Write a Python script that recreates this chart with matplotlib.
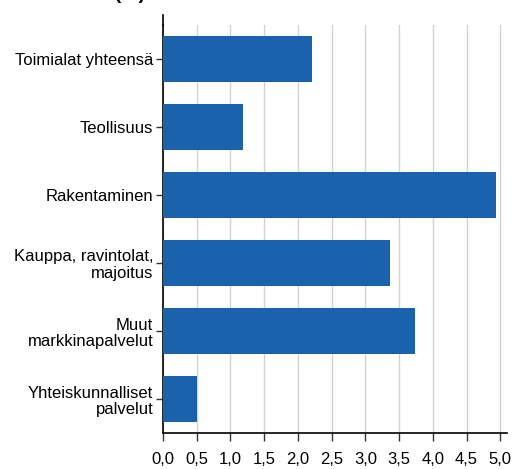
import matplotlib
matplotlib.use("Agg")
import matplotlib.pyplot as plt
import numpy as np

# data
categories = ["Toimialat yhteensä", "Teollisuus", "Rakentaminen",
              "Kauppa, ravintolat,\nmajoitus", "Muut\nmarkkinapalvelut",
              "Yhteiskunnalliset\npalvelut"]
values = [2.21, 1.19, 4.93, 3.36, 3.74, 0.51]
xticks = [0.0, 0.5, 1.0, 1.5, 2.0, 2.5, 3.0, 3.5, 4.0, 4.5, 5.0]
xtick_labels = ["0,0", "0,5", "1,0", "1,5", "2,0", "2,5", "3,0", "3,5", "4,0", "4,5", "5,0"]

plt.rcParams['font.family'] = ['Liberation Sans Narrow', 'Liberation Sans', 'DejaVu Sans']

fig = plt.figure(figsize=(5.23, 4.69), dpi=100)
ax = fig.add_axes([163/523, 1-433/469, (507-163)/523, (433-25)/469])

y = np.arange(len(categories))
ax.barh(y, values, height=0.68, color='#1b62ad', zorder=3)

ax.set_ylim(len(categories)-0.5, -0.5)
ax.set_xlim(0, 5.1)
ax.set_yticks(y)
ax.set_yticklabels(categories, fontsize=12, ha='right', linespacing=1.15)
ax.set_xticks(xticks)
ax.set_xticklabels(xtick_labels, fontsize=12)

ax.grid(axis='x', color='#d3d3d3', linewidth=1, zorder=0)
for s in ['top', 'right']:
    ax.spines[s].set_visible(False)
ax.spines['left'].set_color('black')
ax.spines['bottom'].set_color('black')
ax.spines['left'].set_linewidth(1.2)
ax.spines['bottom'].set_linewidth(1.2)
ax.tick_params(axis='y', length=5, width=1, color='#333333', pad=2)
ax.tick_params(axis='x', length=6, width=1, color='#333333', pad=8)

# left axis line sticks out above the plot
ax.plot([0, 0], [1, 1.025], transform=ax.transAxes, color='black',
        linewidth=1.2, clip_on=False)

# title, cut off at the top edge as in the original
fig.text(40/523, 1.012, "Muutos (%) edellisestä vuodesta", fontsize=14,
         fontweight='bold', va='center', ha='left')

fig.savefig("out.png", dpi=100)
